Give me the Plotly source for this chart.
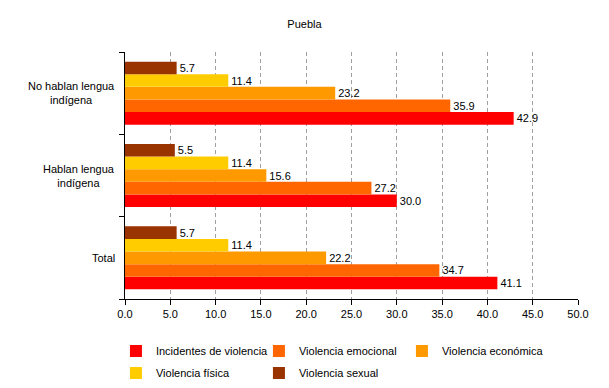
import plotly.graph_objects as go

categories = ["Total", "Hablan lengua<br>indígena", "No hablan lengua<br>indígena"]
series_names = ["Incidentes de violencia", "Violencia emocional", "Violencia económica",
                "Violencia física", "Violencia sexual"]
incidentes = [41.1, 30.0, 42.9]
emocional = [34.7, 27.2, 35.9]
economica = [22.2, 15.6, 23.2]
fisica = [11.4, 11.4, 11.4]
sexual = [5.7, 5.5, 5.7]
colors = ["#FF0000", "#FF6600", "#FF9900", "#FFCC00", "#993300"]
x_ticks = [0, 5, 10, 15, 20, 25, 30, 35, 40, 45, 50]

values = [incidentes, emocional, economica, fisica, sexual]
legend_ids = ["legend", "legend", "legend", "legend2", "legend2"]
font = "Liberation Sans, Arial, sans-serif"

fig = go.Figure()
for name, vals, col, lg in zip(series_names, values, colors, legend_ids):
    fig.add_trace(go.Bar(
        y=categories, x=vals, name=name, orientation="h",
        marker=dict(color=col, line=dict(width=0)),
        text=vals, texttemplate="%{x:.1f}", textposition="outside",
        textfont=dict(color="black", size=11, family=font),
        cliponaxis=False, legend=lg,
    ))

# category labels, centre-aligned on multiple lines like the reference
for cat in categories:
    fig.add_annotation(text=cat, xref="paper", x=0, xshift=-8, xanchor="right",
                       yref="y", y=cat, yanchor="middle", align="center",
                       showarrow=False, font=dict(size=11, family=font, color="black"))

legend_common = dict(orientation="h", x=-0.02, xanchor="left", yanchor="top",
                     entrywidth=98, entrywidthmode="pixels", traceorder="normal",
                     font=dict(size=11, family=font), itemwidth=30, tracegroupgap=0,
                     bgcolor="rgba(0,0,0,0)")

fig.update_layout(
    width=609, height=388,
    margin=dict(l=125, r=31, t=52, b=89, autoexpand=False),
    paper_bgcolor="white", plot_bgcolor="white",
    font=dict(family=font, size=11, color="black"),
    title=dict(text="Puebla", x=0.5, xanchor="center", y=1 - 24 / 388, yanchor="middle",
               font=dict(size=11, family=font)),
    barmode="group", bargap=0.235, bargroupgap=0,
    showlegend=True,
    legend=dict(legend_common, y=-0.152),
    legend2=dict(legend_common, y=-0.241),
    xaxis=dict(range=[0, 50], tickvals=x_ticks, ticktext=[f"{v:.1f}" for v in x_ticks],
               showgrid=True, gridcolor="#a0a0a0", griddash="4px,3px", gridwidth=1,
               showline=True, linecolor="black", linewidth=1,
               ticks="outside", ticklen=5, tickcolor="black", zeroline=False,
               fixedrange=True, automargin=False),
    yaxis=dict(categoryorder="array", categoryarray=categories,
               showline=True, linecolor="black", linewidth=1,
               ticks="outside", ticklen=5, tickcolor="black", tickson="boundaries",
               showticklabels=False,
               showgrid=False, fixedrange=True, automargin=False),
)

fig.write_html("out.html", config={"displayModeBar": False},
               post_script="document.body.style.margin='0';")
